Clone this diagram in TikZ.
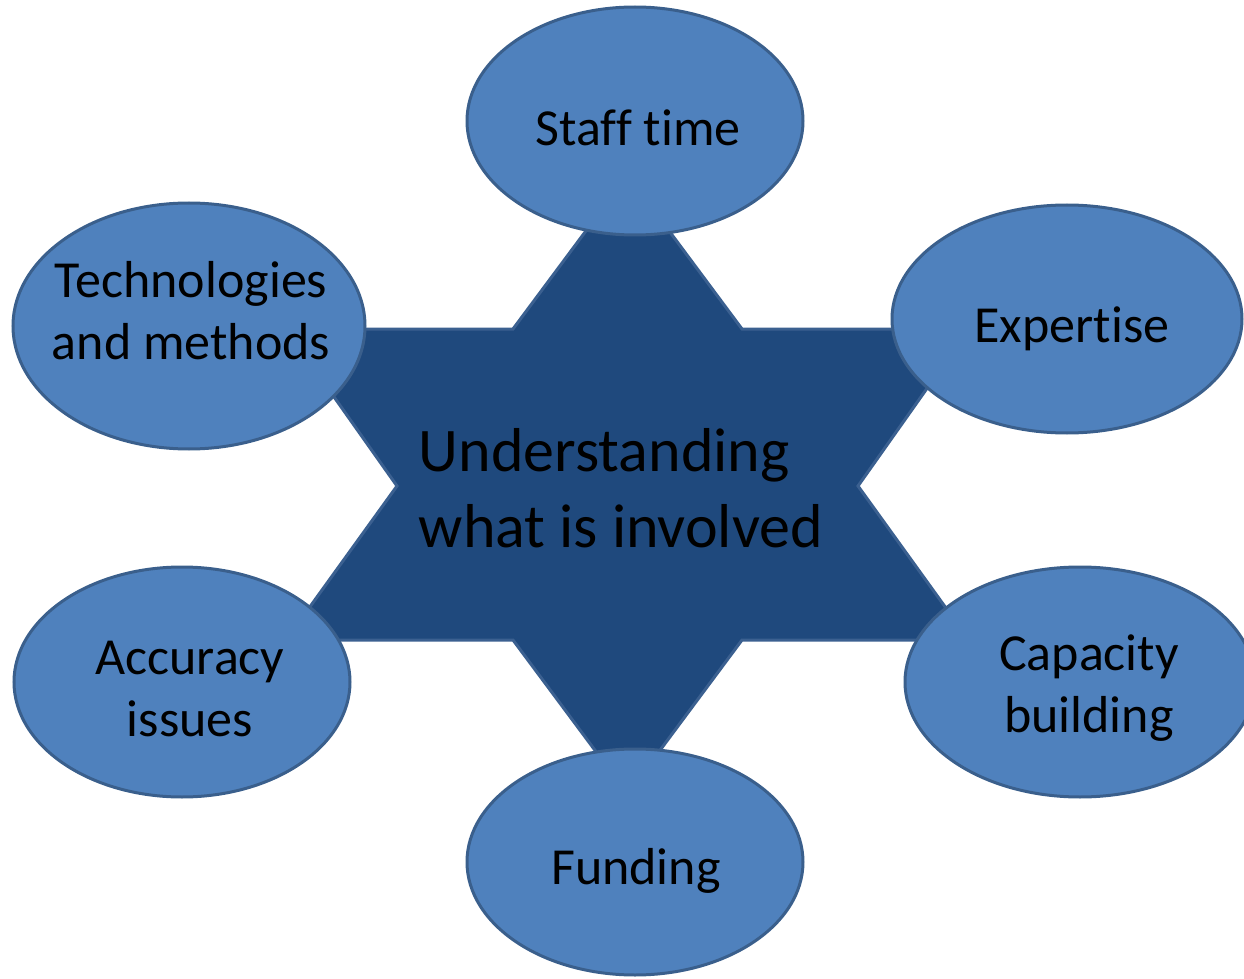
\documentclass[tikz,border=0pt]{standalone}
\usepackage{fontspec}
\setmainfont{Carlito}[Ligatures={NoCommon}]
\usetikzlibrary{shapes.geometric}
\definecolor{bubblefill}{HTML}{4F81BD}
\definecolor{bubbleline}{HTML}{3A5F8C}
\definecolor{starfill}{HTML}{1F497D}
\definecolor{starline}{HTML}{3B6090}

\begin{document}
\begin{tikzpicture}[x=0.5pt,y=-0.5pt,
  bubble/.style={ellipse,draw=bubbleline,fill=bubblefill,line width=1.5pt,inner sep=0pt},
  note/.style={align=center,inner sep=0pt,font=\fontsize{26}{31}\selectfont}]
\useasboundingbox (0,0) rectangle (1244,979);
% six pointed star behind the bubbles
\draw[starline,fill=starfill,line width=1.5pt,line join=miter]
 (627.5,175)--(742,329)--(969,329)--(858,486)--(969,640)--(742,640)--(627.5,794)--(513,640)--(286,640)--(397,486)--(286,329)--(513,329)--cycle;
\node[align=left,font=\fontsize{31}{38}\selectfont](core) at (621,488){Understanding\\what is involved};
% bubbles
\node[bubble,minimum width=168pt,minimum height=114pt](staff) at (635,121){};
\node[bubble,minimum width=175pt,minimum height=114pt](expert) at (1067,319){};
\node[bubble,minimum width=176pt,minimum height=123pt](tech) at (189,326){};
\node[bubble,minimum width=168pt,minimum height=115pt](accur) at (182,682){};
\node[bubble,minimum width=175pt,minimum height=115pt](capac) at (1080,682){};
\node[bubble,minimum width=168pt,minimum height=113pt](fund) at (635,862){};
% bubble texts
\node[note](stafftext) at ([shift={(3,7)}]staff){Staff time};
\node[note](experttext) at ([shift={(5,10)}]expert){Expertise};
\node[note](techtext) at ([shift={(2,-15)}]tech){Technologies\\and methods};
\node[note](accurtext) at ([shift={(8,7)}]accur){Accuracy\\issues};
\node[note](capactext) at ([shift={(9,6)}]capac){Capacity\\building};
\node[note](fundtext) at ([shift={(1,9)}]fund){Funding};
\end{tikzpicture}
\end{document}
